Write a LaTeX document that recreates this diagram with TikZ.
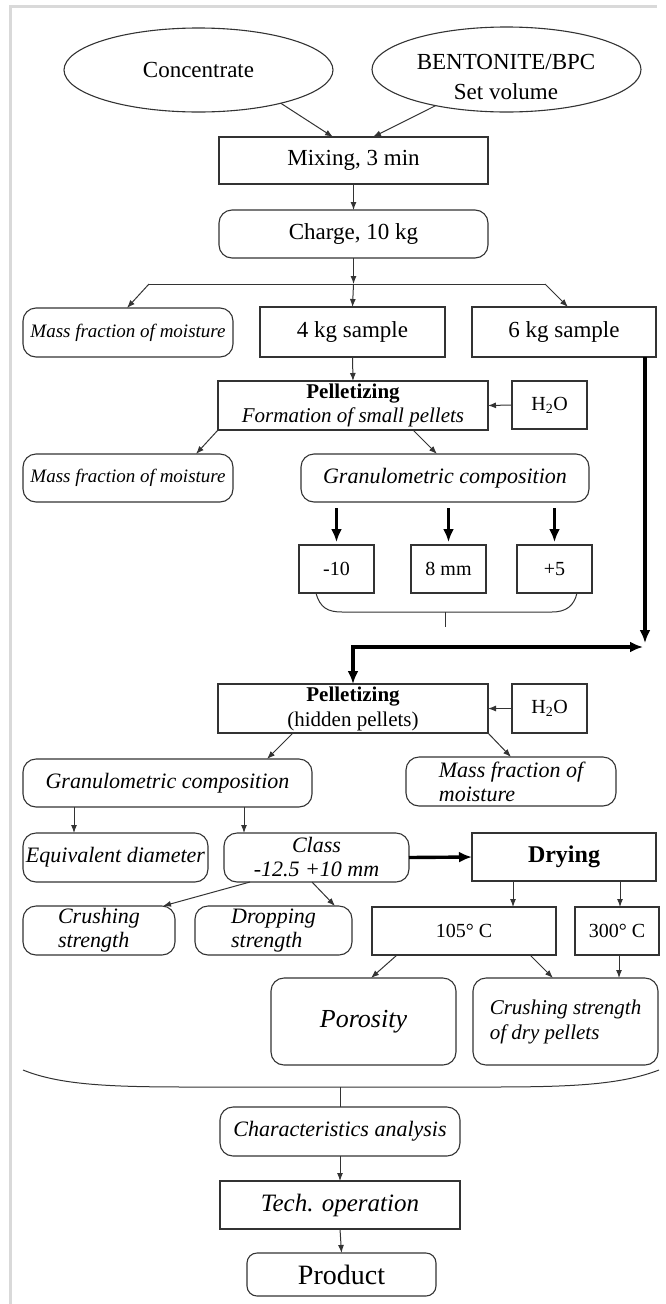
\documentclass[tikz,border=0pt]{standalone}
\usepackage{fontspec}
\setmainfont{Liberation Serif}
\usetikzlibrary{shapes.geometric,arrows.meta,calc}
\begin{document}
\begin{tikzpicture}[x=1pt,y=-1pt,
  base/.style={draw=black!80, line width=1.1pt, inner sep=0pt, outer sep=0pt, align=center, font=\fontsize{23}{27}\selectfont},
  rbox/.style={base, rectangle},
  rrbox/.style={base, rectangle, rounded corners=13pt},
  ell/.style={base, ellipse},
  itx/.style={font=\fontsize{22}{24}\selectfont\itshape},
  arr/.style={draw=black!80, line width=1pt, -{Latex[length=8pt,width=6pt]}},
  tharr/.style={draw=black, line width=3.4pt, -{Latex[length=13pt,width=11pt]}},
  ln/.style={draw=black!80, line width=1pt},
  sz/.style 2 args={minimum width=#1pt, minimum height=#2pt}
]
\useasboundingbox (0,0) rectangle (665,1304);
\draw[line width=3pt, draw=black!15] (10,1304) -- (10,6) -- (657,6);

% top
\node[ell, sz={269}{84}] (conc) at (198.5,70) {Concentrate};
\node[ell, sz={269}{85}] (bent) at (506.5,69.5) {};
\node[inner sep=0pt, align=center, font=\fontsize{23}{30}\selectfont] (bentT) at (506,77) {BENTONITE/BPC\\Set volume};
\node[rbox, sz={269}{47}] (mix) at (353.5,160.5) {Mixing, 3 min};
\node[rrbox, sz={269}{48}] (charge) at (353.5,234) {Charge, 10 kg};

\node[rrbox, sz={210}{49}, font=\fontsize{19}{22}\selectfont\itshape] (mf1) at (128,332.5) {Mass fraction of moisture};
\node[rbox, sz={185}{50}] (s4) at (352.5,332) {4 kg sample};
\node[rbox, sz={184}{50}] (s6) at (564,332) {6 kg sample};

\node[rbox, sz={270}{49}, font=\fontsize{21}{24}\selectfont] (pel1) at (353,405.5) {\textbf{Pelletizing}\\\textit{Formation of small pellets}};
\node[rbox, sz={75}{48}, font=\fontsize{20}{24}\selectfont] (h1) at (549.5,405) {H\textsubscript{2}O};
\node[rrbox, sz={210}{48}, font=\fontsize{19}{22}\selectfont\itshape] (mf2) at (128,478) {Mass fraction of moisture};
\node[rrbox, sz={288}{48}, itx] (gran1) at (445,478) {Granulometric composition};

\node[rbox, sz={75}{48}, font=\fontsize{20}{24}\selectfont] (m10) at (336.5,569) {-10};
\node[rbox, sz={75}{48}, font=\fontsize{20}{24}\selectfont] (mm8) at (448.5,569) {8 mm};
\node[rbox, sz={75}{48}, font=\fontsize{20}{24}\selectfont] (p5) at (554.5,569) {+5};

% second pelletizing
\node[rbox, sz={270}{49}, font=\fontsize{21}{25}\selectfont] (pel2) at (353,708.5) {\textbf{Pelletizing}\\(hidden pellets)};
\node[rbox, sz={75}{49}, font=\fontsize{20}{24}\selectfont] (h2) at (549.5,708.5) {H\textsubscript{2}O};
\node[rrbox, sz={289}{48}, itx] (gran2) at (167.5,783) {Granulometric composition};
\node[rrbox, sz={210}{49}, itx, align=left] (mf3) at (511,781.5) {Mass fraction of\\moisture};
\node[rrbox, sz={185}{49}, itx] (eqd) at (115.5,857.5) {Equivalent diameter};
\node[rrbox, sz={185}{49}, itx] (class) at (316.5,857.5) {Class\\-12.5 +10 mm};
\node[rbox, sz={184}{48}, font=\fontsize{24}{28}\selectfont\bfseries] (dry) at (564,857) {Drying};
\node[rrbox, sz={152}{49}, itx, align=left] (crush) at (99,930.5) {Crushing\\strength};
\node[rrbox, sz={157}{49}, itx, align=left] (drop) at (273.5,930.5) {Dropping\\strength};
\node[rbox, sz={184}{48}, font=\fontsize{20}{24}\selectfont] (c105) at (464,931) {105° C};
\node[rbox, sz={84}{48}, font=\fontsize{20}{24}\selectfont] (c300) at (617,931) {300° C};
\node[rrbox, sz={185}{87}, font=\fontsize{26}{30}\selectfont\itshape] (por) at (363.5,1021.5) {Porosity};
\node[rrbox, sz={185}{87}, font=\fontsize{21}{25}\selectfont\itshape, align=left] (cdry) at (565.5,1021.5) {Crushing strength\\of dry pellets};

% bottom
\node[rrbox, sz={240}{49}, itx] (char) at (340,1131.5) {Characteristics analysis};
\node[rbox, sz={240}{48}, font=\fontsize{25}{29}\selectfont\itshape] (tech) at (340,1205) {Tech. operation};
\node[rrbox, sz={189}{43}, font=\fontsize{28}{32}\selectfont, rounded corners=10pt] (prod) at (341.5,1274.5) {Product};

% connectors top
\draw[arr] (conc.-22.5) -- ($(mix.north)+(-20.5,0)$);
\draw[arr] (bent.-153.6) -- ($(mix.north)+(19.5,0)$);
\draw[arr] (mix.south) -- (charge.north);
\coordinate (sC) at (353.5,284);
\coordinate (sL) at (149,284);
\coordinate (sR) at (545,284);
\draw[arr] (charge.south) -- (sC);
\draw[ln] (sL) -- (sR);
\draw[arr] (sL) -- ($(mf1.north)+(-1,0)$);
\draw[arr] (sC) -- (s4.north);
\draw[arr] (sR) -- ($(s6.north)+(4,0)$);
\draw[arr] (s4.south) -- (pel1.north);
\draw[arr] (h1.west) -- (pel1.east);
\draw[arr] (pel1.south west) -- ($(mf2.north)+(68,0)$);
\draw[arr] ($(pel1.south)+(60,0)$) -- ($(gran1.north)+(-8,0)$);
\foreach \n in {m10,mm8,p5}{
  \draw[tharr, shorten <=6pt, shorten >=3pt] (\n.north |- gran1.south) -- (\n.north);
}
\coordinate (b1L) at (316,593);
\coordinate (b1R) at (577,593);
\coordinate (b1T) at (445,612);
\coordinate (b1E) at (445,627);
\draw[ln] (b1L) .. controls (320,608) and (328,612) .. (342,612) -- (552,612) .. controls (566,612) and (574,606) .. (b1R);
\draw[ln] (b1T) -- (b1E);

% thick route from 6 kg sample
\coordinate (corner) at (645,647);
\coordinate (split2) at (353,647);
\draw[tharr] ($(s6.south east)+(-11,0)$) -- ($(corner)+(0,-4)$);
\draw[tharr] ($(split2)+(-1.7,0)$) -- ($(corner)+(-2,0)$);
\draw[tharr] (split2) -- (pel2.north);

% second part
\draw[arr] (h2.west) -- (pel2.east);
\draw[arr] ($(pel2.south)+(-60,0)$) -- ($(gran2.north)+(99.5,0)$);
\draw[arr] (pel2.south east) -- (mf3.north);
\draw[arr] ($(gran2.south)+(-93.5,0)$) -- ($(eqd.north)+(-41.5,0)$);
\draw[arr] ($(gran2.south)+(76.5,0)$) -- ($(class.north)+(-72.5,0)$);
\draw[tharr] (class.east) -- (dry.west);
\draw[arr] ($(class.south)+(-66.5,0)$) -- ($(crush.north)+(64,0)$);
\draw[arr] ($(class.south)+(-4.5,0)$) -- ($(drop.north)+(61.5,0)$);
\draw[arr] ($(dry.south)+(-51,0)$) -- ($(c105.north)+(49,0)$);
\draw[arr] ($(dry.south)+(56,0)$) -- ($(c300.north)+(3,0)$);
\draw[arr] ($(c105.south)+(-67,0)$) -- ($(por.north)+(7.5,0)$);
\draw[arr] ($(c105.south)+(66,0)$) -- ($(cdry.north)+(-12.5,0)$);
\draw[arr] ($(c300.south)+(2,0)$) -- ($(cdry.north)+(53.5,0)$);

% big brace
\coordinate (b2L) at (23,1070);
\coordinate (b2R) at (659,1070);
\coordinate (b2T) at (340,1087);
\draw[ln] (b2L) .. controls (60,1085) and (110,1087) .. (190,1087) -- (490,1087) .. controls (570,1087) and (620,1085) .. (b2R);
\draw[ln] (b2T) -- (char.north);
\draw[arr] (char.south) -- (tech.north);
\draw[arr] (tech.south) -- (prod.north);
\end{tikzpicture}
\end{document}
